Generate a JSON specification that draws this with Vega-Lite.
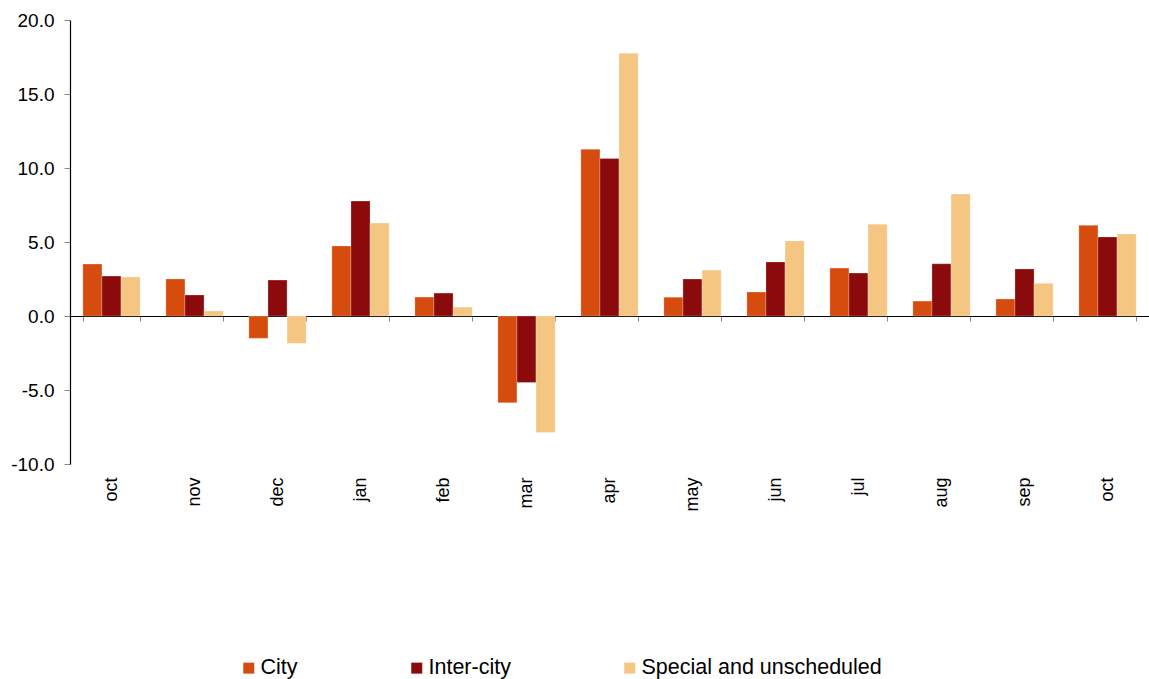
{
  "$schema": "https://vega.github.io/schema/vega-lite/v6.json",
  "width": 1079,
  "height": 444,
  "autosize": {"type": "none"},
  "padding": {"left": 70, "top": 20, "right": 0, "bottom": 215},
  "background": "white",
  "config": {
    "view": {"stroke": null},
    "font": "Liberation Sans"
  },
  "data": {
    "values": [
      {"month": "oct_a", "series": "City", "value": 3.51},
      {"month": "oct_a", "series": "Inter-city", "value": 2.7},
      {"month": "oct_a", "series": "Special and unscheduled", "value": 2.64},
      {"month": "nov", "series": "City", "value": 2.5},
      {"month": "nov", "series": "Inter-city", "value": 1.42},
      {"month": "nov", "series": "Special and unscheduled", "value": 0.34},
      {"month": "dec", "series": "City", "value": -1.51},
      {"month": "dec", "series": "Inter-city", "value": 2.43},
      {"month": "dec", "series": "Special and unscheduled", "value": -1.85},
      {"month": "jan", "series": "City", "value": 4.73},
      {"month": "jan", "series": "Inter-city", "value": 7.77},
      {"month": "jan", "series": "Special and unscheduled", "value": 6.28},
      {"month": "feb", "series": "City", "value": 1.28},
      {"month": "feb", "series": "Inter-city", "value": 1.55},
      {"month": "feb", "series": "Special and unscheduled", "value": 0.6},
      {"month": "mar", "series": "City", "value": -5.86},
      {"month": "mar", "series": "Inter-city", "value": -4.5},
      {"month": "mar", "series": "Special and unscheduled", "value": -7.88},
      {"month": "apr", "series": "City", "value": 11.26},
      {"month": "apr", "series": "Inter-city", "value": 10.65},
      {"month": "apr", "series": "Special and unscheduled", "value": 17.75},
      {"month": "may", "series": "City", "value": 1.27},
      {"month": "may", "series": "Inter-city", "value": 2.5},
      {"month": "may", "series": "Special and unscheduled", "value": 3.1},
      {"month": "jun", "series": "City", "value": 1.62},
      {"month": "jun", "series": "Inter-city", "value": 3.65},
      {"month": "jun", "series": "Special and unscheduled", "value": 5.07},
      {"month": "jul", "series": "City", "value": 3.24},
      {"month": "jul", "series": "Inter-city", "value": 2.9},
      {"month": "jul", "series": "Special and unscheduled", "value": 6.2},
      {"month": "aug", "series": "City", "value": 1.01},
      {"month": "aug", "series": "Inter-city", "value": 3.53},
      {"month": "aug", "series": "Special and unscheduled", "value": 8.24},
      {"month": "sep", "series": "City", "value": 1.15},
      {"month": "sep", "series": "Inter-city", "value": 3.18},
      {"month": "sep", "series": "Special and unscheduled", "value": 2.21},
      {"month": "oct_b", "series": "City", "value": 6.13},
      {"month": "oct_b", "series": "Inter-city", "value": 5.34},
      {"month": "oct_b", "series": "Special and unscheduled", "value": 5.54}
    ]
  },
  "mark": {"type": "bar", "stroke": "#ffffff", "strokeOpacity": 0.5, "strokeWidth": 0.5},
  "encoding": {
    "x": {
      "field": "month",
      "type": "nominal",
      "sort": ["oct_a", "nov", "dec", "jan", "feb", "mar", "apr", "may", "jun", "jul", "aug", "sep", "oct_b"],
      "scale": {"paddingInner": 0.31, "paddingOuter": 0.155},
      "axis": {
        "title": null,
        "orient": "bottom",
        "offset": -148,
        "labelExpr": "isString(datum.value) ? split(datum.value, '_')[0] : ''",
        "labelAngle": -90,
        "labelFontSize": 18,
        "labelColor": "#000000",
        "labelPadding": 156,
        "tickBand": "extent",
        "tickSize": 5,
        "tickColor": "#888888",
        "domainColor": "#000000",
        "domainWidth": 1.2,
        "grid": false
      }
    },
    "xOffset": {
      "field": "series",
      "type": "nominal",
      "sort": ["City", "Inter-city", "Special and unscheduled"]
    },
    "y": {
      "field": "value",
      "type": "quantitative",
      "scale": {"domain": [-10, 20], "nice": false},
      "axis": {
        "title": null,
        "values": [-10, -5, 0, 5, 10, 15, 20],
        "format": ".1f",
        "labelExpr": "replace(datum.label, '\u2212', '-')",
        "grid": false,
        "labelFontSize": 19,
        "labelColor": "#000000",
        "labelPadding": 10,
        "tickSize": 6,
        "tickColor": "#888888",
        "domainColor": "#000000",
        "domainWidth": 1.2
      }
    },
    "color": {
      "field": "series",
      "type": "nominal",
      "sort": ["City", "Inter-city", "Special and unscheduled"],
      "scale": {
        "domain": ["City", "Inter-city", "Special and unscheduled"],
        "range": ["#D64C0E", "#8B0A0B", "#F5C582"]
      },
      "legend": {
        "title": null,
        "orient": "none",
        "direction": "horizontal",
        "legendX": 168,
        "legendY": 637,
        "padding": 0,
        "symbolType": "square",
        "symbolSize": 121,
        "symbolStrokeWidth": 0,
        "labelFontSize": 21.5,
        "labelLimit": 0,
        "labelColor": "#000000",
        "labelOffset": 1,
        "columnPadding": 108
      }
    }
  }
}
